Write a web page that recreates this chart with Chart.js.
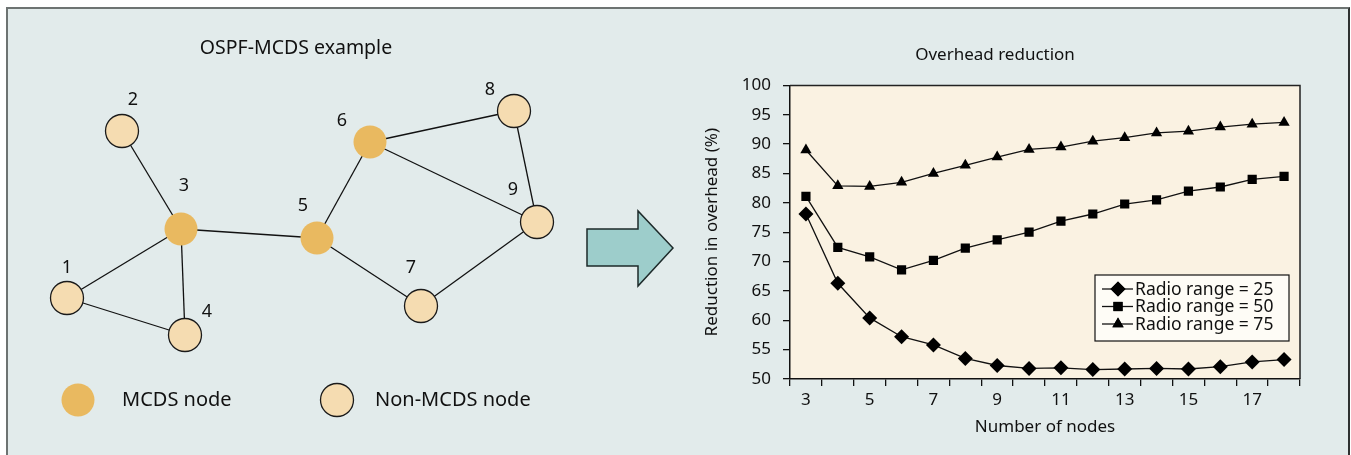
<!DOCTYPE html>
<html>
<head>
<meta charset="utf-8">
<script src="https://cdn.jsdelivr.net/npm/chart.js@4.4.1/dist/chart.umd.min.js"></script>
<style>
    body { margin: 0; background: #ffffff; width: 1351px; height: 455px; overflow: hidden; position: relative; font-family: "Noto Sans", sans-serif; }
    #frame { position: absolute; left: 6px; top: 7px; width: 1340px; height: 470px; background: #e2ebeb; border: 2px solid #6d7372; border-right-color: #2e3130; }
    #diagram { position: absolute; left: 0; top: 0; }
    #chart { position: absolute; left: 690px; top: 30px; }
</style>
</head>
<body>
<div id="frame"></div>
<canvas id="diagram" width="700" height="455"></canvas>
<canvas id="chart" width="645" height="420"></canvas>
<script>
// ---- network example (left) ----
const nodeIds = [1, 2, 3, 4, 5, 6, 7, 8, 9];
const nodeX = [67, 122, 181, 185, 317, 370, 421, 514, 537];
const nodeY = [298, 131, 229, 335, 238, 142, 306, 111, 222];
const mcdsNodes = [3, 5, 6];
const edges = [[2, 3], [3, 1], [3, 4], [1, 4], [3, 5], [5, 6], [5, 7], [6, 8], [6, 9], [8, 9], [7, 9]];
const legendKeys = ["MCDS node", "Non-MCDS node"];
const legendKeyX = [78, 337];
const legendKeyY = [400, 400];
const arrowX = [587, 638, 638, 673, 638, 638, 587];
const arrowY = [229, 229, 211, 248, 286, 266, 266];

// ---- overhead reduction (right) ----
const nodeCounts = [3, 4, 5, 6, 7, 8, 9, 10, 11, 12, 13, 14, 15, 16, 17, 18];
const range25 = [78.1, 66.3, 60.4, 57.2, 55.8, 53.5, 52.3, 51.8, 51.9, 51.6, 51.7, 51.8, 51.7, 52.1, 52.9, 53.3];
const range50 = [81.1, 72.4, 70.8, 68.6, 70.2, 72.3, 73.7, 75.0, 76.9, 78.1, 79.8, 80.5, 82.0, 82.7, 84.0, 84.5];
const range75 = [89.0, 82.9, 82.8, 83.5, 85.0, 86.4, 87.8, 89.1, 89.5, 90.5, 91.1, 91.9, 92.2, 92.9, 93.4, 93.7];
const seriesNames = ["Radio range = 25", "Radio range = 50", "Radio range = 75"];

const FONT = '"Noto Sans", sans-serif';
const MCDS_FILL = '#e9b960';
const NON_FILL = '#f5dcb1';

// label offset of each node number from its node
const labelDX = [0, 11, 3, 22, -14, -28, -10, -24, -24];
const labelDY = [-30, -31, -43, -23, -32, -21, -38, -21, -32];

function nodePoint(id) {
    const i = nodeIds.indexOf(id);
    return {x: nodeX[i], y: nodeY[i]};
}

let diagramSets = [];
diagramSets.push({
    label: 'mcds',
    data: nodeIds.filter(id => mcdsNodes.includes(id)).map(nodePoint)
        .concat([{x: legendKeyX[0], y: legendKeyY[0]}]),
    pointRadius: 16.5,
    pointBackgroundColor: MCDS_FILL,
    pointBorderWidth: 0,
    pointBorderColor: MCDS_FILL,
    order: 0
});
diagramSets.push({
    label: 'non-mcds',
    data: nodeIds.filter(id => !mcdsNodes.includes(id)).map(nodePoint)
        .concat([{x: legendKeyX[1], y: legendKeyY[1]}]),
    pointRadius: 16.5,
    pointBackgroundColor: NON_FILL,
    pointBorderWidth: 1.3,
    pointBorderColor: '#1a1a1a',
    order: 0
});
for (let e = 0; e < edges.length; e++) {
    diagramSets.push({
        label: 'edge' + e,
        data: [nodePoint(edges[e][0]), nodePoint(edges[e][1])],
        showLine: true,
        borderColor: '#111111',
        borderWidth: 1.3,
        pointRadius: 0,
        order: 1
    });
}

const diagramDecor = {
    id: 'diagramDecor',
    beforeDatasetsDraw(chart) {
        const ctx = chart.ctx;
        const xs = chart.scales.x, ys = chart.scales.y;
        ctx.save();
        ctx.beginPath();
        for (let i = 0; i < arrowX.length; i++) {
            const px = xs.getPixelForValue(arrowX[i]);
            const py = ys.getPixelForValue(arrowY[i]);
            if (i === 0) ctx.moveTo(px, py); else ctx.lineTo(px, py);
        }
        ctx.closePath();
        ctx.fillStyle = '#9dcdcb';
        ctx.fill();
        ctx.lineWidth = 1.5;
        ctx.strokeStyle = '#1d2a2a';
        ctx.stroke();
        ctx.restore();
    },
    afterDatasetsDraw(chart) {
        const ctx = chart.ctx;
        const xs = chart.scales.x, ys = chart.scales.y;
        ctx.save();
        ctx.fillStyle = '#111111';
        ctx.textAlign = 'center';
        ctx.textBaseline = 'middle';
        ctx.font = '19.5px ' + FONT;
        ctx.fillText('OSPF-MCDS example', xs.getPixelForValue(296), ys.getPixelForValue(48));
        ctx.font = '18px ' + FONT;
        for (let i = 0; i < nodeIds.length; i++) {
            ctx.fillText(String(nodeIds[i]),
                xs.getPixelForValue(nodeX[i] + labelDX[i]),
                ys.getPixelForValue(nodeY[i] + labelDY[i]));
        }
        ctx.textAlign = 'left';
        ctx.font = '20px ' + FONT;
        ctx.fillText(legendKeys[0], xs.getPixelForValue(legendKeyX[0] + 44), ys.getPixelForValue(legendKeyY[0]));
        ctx.fillText(legendKeys[1], xs.getPixelForValue(legendKeyX[1] + 38), ys.getPixelForValue(legendKeyY[1]));
        ctx.restore();
    }
};

new Chart(document.getElementById('diagram'), {
    type: 'scatter',
    data: {datasets: diagramSets},
    options: {
        animation: false,
        responsive: false,
        events: [],
        layout: {padding: 0, autoPadding: false},
        plugins: {legend: {display: false}, tooltip: {enabled: false}},
        scales: {
            x: {type: 'linear', min: 0, max: 700, display: false},
            y: {type: 'linear', min: 0, max: 455, reverse: true, display: false}
        }
    },
    plugins: [diagramDecor]
});

// ---- line chart ----
const markerStyles = ['rectRot', 'rect', 'triangle'];
const markerSizes = [7.5, 6.5, 6.5];
const seriesData = [range25, range50, range75];

const plotDecor = {
    id: 'plotDecor',
    beforeDraw(chart) {
        const a = chart.chartArea;
        const ctx = chart.ctx;
        ctx.save();
        ctx.fillStyle = '#faf2e2';
        ctx.fillRect(a.left, a.top, a.right - a.left, a.bottom - a.top);
        ctx.restore();
    },
    afterDraw(chart) {
        const a = chart.chartArea;
        const ctx = chart.ctx;
        ctx.save();
        ctx.strokeStyle = '#222222';
        ctx.lineWidth = 1.5;
        ctx.beginPath();
        ctx.moveTo(a.left, a.top);
        ctx.lineTo(a.right, a.top);
        ctx.lineTo(a.right, a.bottom);
        ctx.stroke();

        // legend box in the lower right corner
        const w = 194, h = 66;
        const bx = a.right - 11 - w, by = a.bottom - 38 - h;
        ctx.fillStyle = '#fefcf6';
        ctx.fillRect(bx, by, w, h);
        ctx.strokeStyle = '#111111';
        ctx.lineWidth = 1.2;
        ctx.strokeRect(bx, by, w, h);
        ctx.font = '17.5px ' + FONT;
        ctx.textBaseline = 'middle';
        ctx.textAlign = 'left';
        for (let i = 0; i < seriesNames.length; i++) {
            const ry = by + 14 + i * 17.5;
            ctx.strokeStyle = '#111111';
            ctx.lineWidth = 1.3;
            ctx.beginPath();
            ctx.moveTo(bx + 7, ry);
            ctx.lineTo(bx + 38, ry);
            ctx.stroke();
            ctx.fillStyle = '#000000';
            Chart.helpers.drawPoint(ctx, {pointStyle: markerStyles[i], radius: markerSizes[i], borderWidth: 0}, bx + 23, ry);
            ctx.fill();
            ctx.fillStyle = '#111111';
            ctx.fillText(seriesNames[i], bx + 40, ry + 1);
        }
        ctx.restore();
    }
};

let lineSets = [];
for (let i = 0; i < seriesNames.length; i++) {
    lineSets.push({
        label: seriesNames[i],
        data: seriesData[i],
        borderColor: '#111111',
        borderWidth: 1.3,
        pointStyle: markerStyles[i],
        pointRadius: markerSizes[i],
        pointBackgroundColor: '#000000',
        pointBorderColor: '#000000',
        pointBorderWidth: 0,
        tension: 0
    });
}

new Chart(document.getElementById('chart'), {
    type: 'line',
    data: {labels: nodeCounts, datasets: lineSets},
    options: {
        animation: false,
        responsive: false,
        events: [],
        layout: {padding: {top: 0, right: 35, bottom: 0, left: 0}, autoPadding: false},
        plugins: {
            legend: {display: false},
            tooltip: {enabled: false},
            title: {
                display: true,
                text: 'Overhead reduction',
                color: '#111111',
                font: {family: FONT, size: 17, weight: 'normal'},
                padding: {top: 15, bottom: 20}
            }
        },
        scales: {
            x: {
                type: 'category',
                offset: true,
                grid: {offset: true, drawOnChartArea: false, tickLength: 7, color: '#111111', lineWidth: 1.3},
                border: {color: '#111111', width: 1.5},
                ticks: {
                    autoSkip: false,
                    maxRotation: 0,
                    color: '#111111',
                    padding: 4,
                    font: {family: FONT, size: 17},
                    callback: function (value, index) {
                        return index % 2 === 0 ? this.getLabelForValue(value) : '';
                    }
                },
                title: {
                    display: true,
                    text: 'Number of nodes',
                    color: '#111111',
                    font: {family: FONT, size: 17},
                    padding: {top: 0, bottom: 13}
                },
                afterFit(scale) { scale.height = 71; }
            },
            y: {
                min: 50,
                max: 100,
                grid: {drawOnChartArea: false, tickLength: 7, color: '#111111', lineWidth: 1.3},
                border: {color: '#111111', width: 1.5},
                ticks: {
                    stepSize: 5,
                    color: '#111111',
                    padding: 12,
                    font: {family: FONT, size: 17}
                },
                title: {
                    display: true,
                    text: 'Reduction in overhead (%)',
                    color: '#111111',
                    font: {family: FONT, size: 17},
                    padding: {top: 12, bottom: 0}
                },
                afterFit(scale) { scale.width = 100; }
            }
        }
    },
    plugins: [plotDecor]
});
</script>
</body>
</html>
